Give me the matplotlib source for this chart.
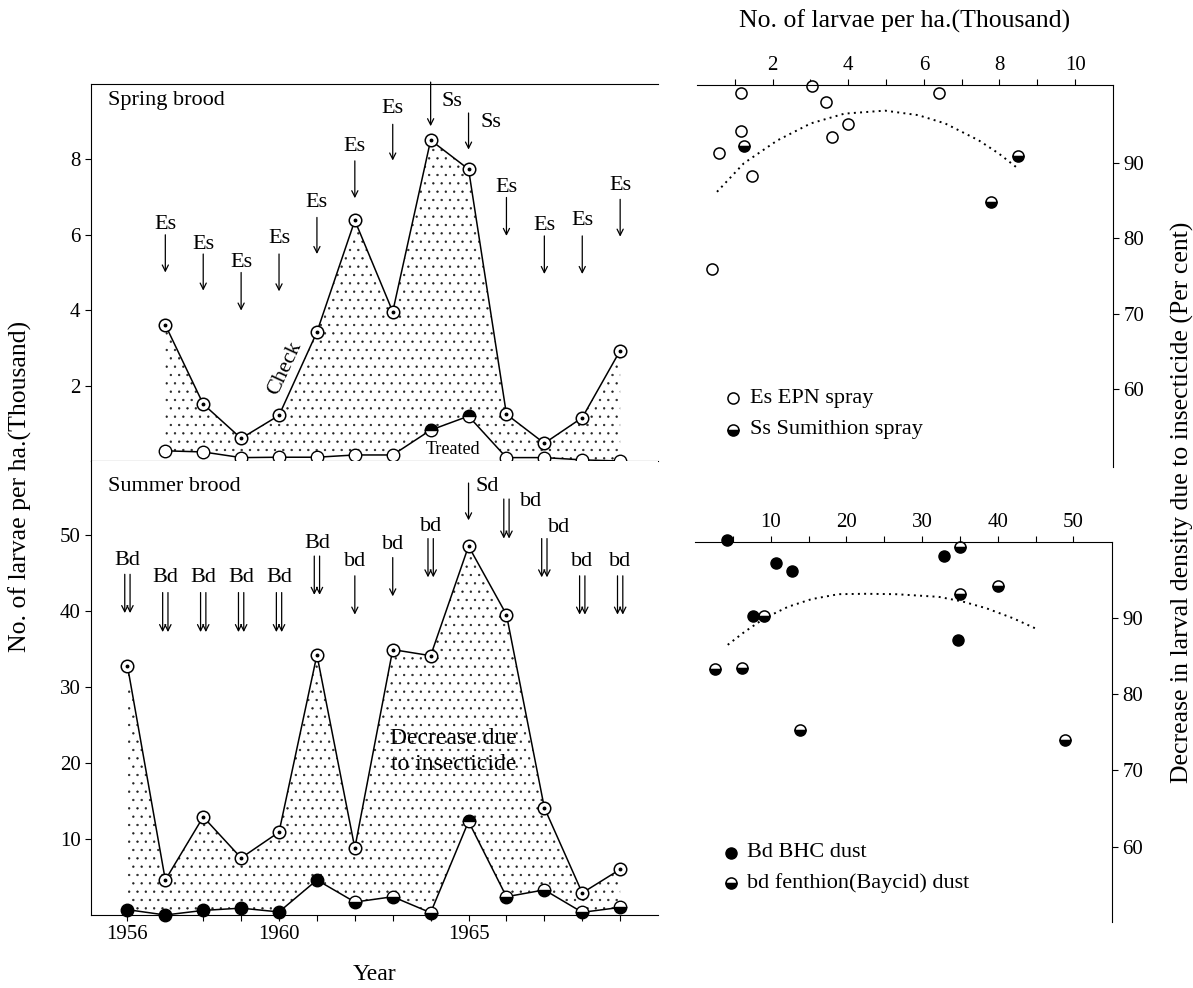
import numpy as np
import matplotlib.pyplot as plt

plt.rcParams['font.family'] = ['Liberation Serif', 'DejaVu Serif']
plt.rcParams['hatch.linewidth'] = 0.45

# spring brood, thousand larvae per ha
spring_years = list(range(1957, 1970))
spring_check = [3.61, 1.51, 0.60, 1.21, 3.42, 6.38, 3.96, 8.51, 7.74, 1.24, 0.47, 1.15, 2.93]
spring_treated = [0.27, 0.24, 0.09, 0.10, 0.10, 0.16, 0.16, 0.82, 1.19, 0.09, 0.09, 0.03, 0.0]
spring_half = [False] * 7 + [True, True] + [False] * 4
spring_spray = ['Es'] * 7 + ['Ss', 'Ss'] + ['Es'] * 4
# label y, arrow top, arrow tip (data units) and label shift (years)
spring_lab_y = [6.28, 5.75, 5.27, 5.89, 6.85, 8.33, 9.34, 9.54, 8.99, 7.25, 6.24, 6.37, 7.30]
spring_arr_top = [6.0, 5.49, 5.0, 5.49, 6.46, 7.96, 8.93, 10.05, 9.23, 6.99, 5.97, 5.97, 6.94]
spring_arr_tip = [5.0, 4.52, 3.99, 4.50, 5.49, 6.97, 7.97, 8.88, 8.26, 5.97, 4.96, 4.96, 5.95]
spring_lab_dx = [0] * 7 + [0.55, 0.6] + [0] * 4

# summer brood
summer_years = list(range(1956, 1970))
summer_check = [32.8, 4.6, 12.9, 7.5, 10.9, 34.2, 8.8, 34.9, 34.1, 48.5, 39.5, 14.1, 2.9, 6.0]
summer_treated = [0.7, 0.0, 0.6, 0.9, 0.4, 4.6, 1.7, 2.4, 0.3, 12.3, 2.4, 3.3, 0.35, 1.0]
summer_dust = ['Bd'] * 6 + ['bd'] * 3 + ['Sd'] + ['bd'] * 4
summer_double = [True] * 6 + [False, False, True, False] + [True] * 4
summer_lab_y = [46.6, 44.4, 44.4, 44.4, 44.4, 48.8, 46.5, 48.7, 51.1, 56.4, 54.4, 50.9, 46.5, 46.5]
summer_arr_top = [44.8, 42.4, 42.4, 42.4, 42.4, 47.2, 44.6, 47.0, 49.5, 56.8, 54.7, 49.5, 44.6, 44.6]
summer_arr_tip = [39.7, 37.2, 37.2, 37.2, 37.2, 42.1, 39.5, 41.9, 44.4, 51.9, 49.5, 44.4, 39.5, 39.5]
summer_lab_dx = [0] * 9 + [0.5, 0.65, 0.4, 0, 0]

# decrease (%) vs density, spring
epn_x = [1.17, 3.03, 3.40, 6.41, 1.17, 3.99, 3.56, 0.58, 1.45, 0.40]
epn_y = [99.3, 100.3, 98.1, 99.3, 94.25, 95.2, 93.5, 91.4, 88.3, 76.0]
sumi_x = [1.24, 8.49, 7.78]
sumi_y = [92.3, 91.0, 84.9]
spring_curve_x = [0.53, 1.24, 2.13, 3.01, 3.90, 4.97, 5.85, 6.56, 7.45, 7.98, 8.49]
spring_curve_y = [86.2, 90.0, 93.05, 95.3, 96.6, 97.0, 96.4, 95.3, 93.05, 91.3, 89.3]

# decrease (%) vs density, summer
bhc_x = [4.19, 10.66, 12.83, 32.9, 7.65, 34.8]
bhc_y = [100.2, 97.2, 96.2, 98.1, 90.3, 87.1]
bay_x = [35.0, 40.05, 35.0, 9.07, 2.64, 6.18, 13.86, 48.87]
bay_y = [99.3, 94.2, 93.2, 90.3, 83.3, 83.4, 75.3, 74.0]
summer_curve_x = [4.32, 6.54, 9.20, 12.30, 15.40, 18.95, 22.5, 26.5, 32.2, 35.3, 38.5, 42.0, 45.1]
summer_curve_y = [86.5, 88.2, 90.0, 91.5, 92.5, 93.15, 93.2, 93.15, 92.8, 92.2, 91.3, 90.0, 88.6]

fig = plt.figure(figsize=(11.93, 9.88), dpi=100)
ax1 = fig.add_axes([0.0763, 0.5334, 0.4753, 0.3816])
ax2 = fig.add_axes([0.0763, 0.0739, 0.4753, 0.4595])
ax3 = fig.add_axes([0.5842, 0.5273, 0.3487, 0.3866])
ax4 = fig.add_axes([0.5826, 0.0668, 0.3495, 0.3846])

fs = 16
tfs = 15
arr = dict(arrowstyle='->', lw=0.9, color='black', shrinkA=0, shrinkB=0, mutation_scale=11)


def brood_panel(ax, years, check, treated):
    ax.fill_between(years, treated, check, facecolor='none', edgecolor='#222222',
                    hatch='..', linewidth=0)
    ax.plot(years, check, color='black', lw=1.1, zorder=3)
    ax.plot(years, treated, color='black', lw=1.1, zorder=3)
    ax.plot(years, check, 'o', ms=9, mfc='white', mec='black', mew=1.1, zorder=4)
    ax.plot(years, check, 'o', ms=1.8, color='black', zorder=5)
    ax.set_xlim(1955.04, 1970.0)
    ax.spines['right'].set_visible(False)
    ax.tick_params(labelsize=tfs, length=4, width=0.8)


# spring
brood_panel(ax1, spring_years, spring_check, spring_treated)
for x, y, h in zip(spring_years, spring_treated, spring_half):
    if h:
        ax1.plot(x, y, 'o', ms=9, mfc='black', mfcalt='white', fillstyle='top',
                 mec='black', mew=1.0, zorder=4, clip_on=False)
    else:
        ax1.plot(x, y, 'o', ms=9, mfc='white', mec='black', mew=1.0, zorder=4, clip_on=False)
for x, lab, ly, y0, y1, dx in zip(spring_years, spring_spray, spring_lab_y,
                                  spring_arr_top, spring_arr_tip, spring_lab_dx):
    ax1.annotate('', xy=(x, y1), xytext=(x, y0), arrowprops=arr, annotation_clip=False)
    ax1.text(x + dx, ly, lab, fontsize=fs, ha='center', va='center')
ax1.set_ylim(0, 10)
ax1.set_yticks([2, 4, 6, 8])
ax1.set_xticks(spring_years)
ax1.set_xticklabels([])
ax1.text(1955.5, 9.55, 'Spring brood', fontsize=fs, va='center')
ax1.text(1960.15, 2.45, 'Check', fontsize=fs, rotation=65, ha='center', va='center')
ax1.text(1964.6, 0.3, 'Treated', fontsize=13, ha='center', va='center')

# summer
brood_panel(ax2, summer_years, summer_check, summer_treated)
for x, y, d in zip(summer_years, summer_treated, summer_dust):
    if d == 'Bd':
        ax2.plot(x, y, 'o', ms=9, mfc='black', mec='black', zorder=4, clip_on=False)
    else:
        fsty = 'top' if d == 'Sd' else 'bottom'
        ax2.plot(x, y, 'o', ms=9, mfc='black', mfcalt='white', fillstyle=fsty,
                 mec='black', mew=1.0, zorder=4, clip_on=False)
for x, lab, ly, y0, y1, dbl, dx in zip(summer_years, summer_dust, summer_lab_y,
                                       summer_arr_top, summer_arr_tip, summer_double, summer_lab_dx):
    offs = [-0.07, 0.07] if dbl else [0.0]
    for o in offs:
        ax2.annotate('', xy=(x + o, y1), xytext=(x + o, y0), arrowprops=arr, annotation_clip=False)
    ax2.text(x + dx, ly, lab, fontsize=fs, ha='center', va='center')
ax2.set_ylim(0, 59.7)
ax2.set_yticks([10, 20, 30, 40, 50])
ax2.set_xticks(summer_years)
ax2.set_xticklabels([str(y) if y in (1956, 1960, 1965) else '' for y in summer_years])
ax2.spines['top'].set_visible(False)
ax2.text(1955.5, 56.3, 'Summer brood', fontsize=fs, va='center')
ax2.text(1964.6, 21.5, 'Decrease due\nto insecticide', fontsize=17, ha='center', va='center',
         linespacing=1.3)
ax2.set_xlabel('Year', fontsize=17, labelpad=14)
fig.text(0.017, 0.508, 'No. of larvae per ha.(Thousand)', fontsize=18.5, rotation=90,
         ha='center', va='center')


def decrease_panel(ax):
    for s in ('left', 'bottom'):
        ax.spines[s].set_visible(False)
    ax.xaxis.tick_top()
    ax.yaxis.tick_right()
    ax.tick_params(labelsize=tfs, length=4, width=0.8)
    ax.tick_params(which='minor', length=4, width=0.8)


# spring decrease
decrease_panel(ax3)
ax3.plot(spring_curve_x, spring_curve_y, ls=(0, (1, 2.2)), color='black', lw=1.4)
ax3.plot(epn_x, epn_y, 'o', ms=8, mfc='white', mec='black', mew=1.1, ls='none', clip_on=False)
ax3.plot(sumi_x, sumi_y, 'o', ms=8, mfc='black', mfcalt='white', fillstyle='bottom',
         mec='black', mew=1.1, ls='none', clip_on=False)
ax3.set_xlim(0, 11)
ax3.set_ylim(49.6, 100.4)
ax3.set_xticks([2, 4, 6, 8, 10])
ax3.set_xticks([1, 3, 5, 7, 9], minor=True)
ax3.set_yticks([60, 70, 80, 90])
ax3.set_xlabel('No. of larvae per ha.(Thousand)', fontsize=18.5, labelpad=20)
ax3.xaxis.set_label_position('top')
ax3.plot([0.087], [0.18], 'o', ms=8, mfc='white', mec='black', mew=1.1,
         transform=ax3.transAxes, clip_on=False)
ax3.text(0.127, 0.18, 'Es EPN spray', fontsize=fs, va='center', transform=ax3.transAxes)
ax3.plot([0.087], [0.097], 'o', ms=8, mfc='black', mfcalt='white', fillstyle='bottom',
         mec='black', mew=1.1, transform=ax3.transAxes, clip_on=False)
ax3.text(0.127, 0.097, 'Ss Sumithion spray', fontsize=fs, va='center', transform=ax3.transAxes)

# summer decrease
decrease_panel(ax4)
ax4.plot(summer_curve_x, summer_curve_y, ls=(0, (1, 2.2)), color='black', lw=1.4)
ax4.plot(bhc_x, bhc_y, 'o', ms=8, mfc='black', mec='black', ls='none', clip_on=False)
ax4.plot(bay_x, bay_y, 'o', ms=8, mfc='black', mfcalt='white', fillstyle='bottom',
         mec='black', mew=1.1, ls='none', clip_on=False)
ax4.set_xlim(0, 55.1)
ax4.set_ylim(50.1, 100.0)
ax4.set_xticks([10, 20, 30, 40, 50])
ax4.set_xticks([5, 15, 25, 35, 45], minor=True)
ax4.set_yticks([60, 70, 80, 90])
ax4.plot([0.087], [0.182], 'o', ms=8, mfc='black', mec='black',
         transform=ax4.transAxes, clip_on=False)
ax4.text(0.125, 0.182, 'Bd BHC dust', fontsize=fs, va='center', transform=ax4.transAxes)
ax4.plot([0.087], [0.103], 'o', ms=8, mfc='black', mfcalt='white', fillstyle='bottom',
         mec='black', mew=1.1, transform=ax4.transAxes, clip_on=False)
ax4.text(0.125, 0.103, 'bd fenthion(Baycid) dust', fontsize=fs, va='center', transform=ax4.transAxes)

fig.text(0.991, 0.492, 'Decrease in larval density due to insecticide (Per cent)', fontsize=18.5,
         rotation=90, ha='center', va='center')

fig.savefig('out.png', dpi=100)
